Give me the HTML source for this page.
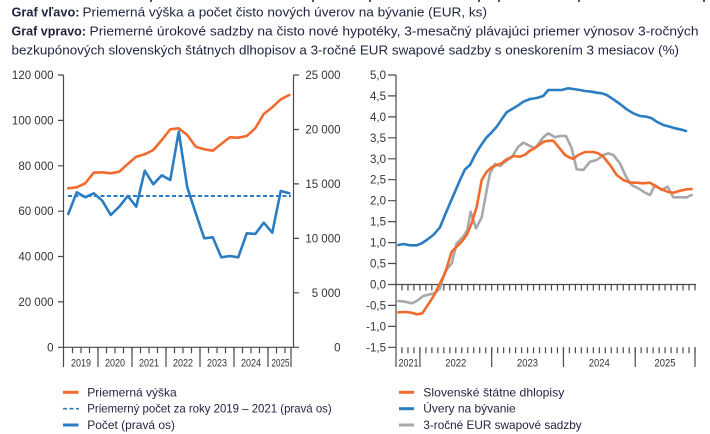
<!DOCTYPE html>
<html><head><meta charset="utf-8">
<style>
html,body{margin:0;padding:0;background:#fff;}
svg{display:block;}
text{font-family:"Liberation Sans",sans-serif;}
</style></head>
<body>
<svg width="710" height="434" viewBox="0 0 710 434" xmlns="http://www.w3.org/2000/svg">
<rect width="710" height="434" fill="#fff"/>
<!-- cut-off descenders from previous line -->
<g fill="#555">
<rect x="150" y="0" width="2" height="2"/>
<rect x="312" y="0" width="2" height="2"/>
<rect x="369" y="0" width="2" height="2"/>
<rect x="478" y="0" width="2" height="2"/>
<rect x="498" y="0" width="2" height="2"/>
<rect x="578" y="0" width="2" height="2"/>
<rect x="703" y="0" width="2" height="2"/>
</g>
<!-- Titles -->
<g fill="#1f2340" font-size="12.5">
<text x="11.5" y="16.5" font-weight="bold" textLength="68" lengthAdjust="spacingAndGlyphs">Graf vľavo:</text>
<text x="82.5" y="16.5" textLength="404.5" lengthAdjust="spacingAndGlyphs">Priemerná výška a počet čisto nových úverov na bývanie (EUR, ks)</text>
<text x="11.5" y="35.5" font-weight="bold" textLength="74.5" lengthAdjust="spacingAndGlyphs">Graf vpravo:</text>
<text x="89.5" y="35.5" textLength="609" lengthAdjust="spacingAndGlyphs">Priemerné úrokové sadzby na čisto nové hypotéky, 3-mesačný plávajúci priemer výnosov 3-ročných</text>
<text x="11.5" y="54.5" textLength="667.5" lengthAdjust="spacingAndGlyphs">bezkupónových slovenských štátnych dlhopisov a 3-ročné EUR swapové sadzby s oneskorením 3 mesiacov (%)</text>
</g>

<!-- LEFT CHART -->
<g stroke="#4a4a4a" stroke-width="1.2" fill="none">
<line x1="63.5" y1="75" x2="63.5" y2="367"/>
<line x1="293.5" y1="75" x2="293.5" y2="347.3"/>
<line x1="58" y1="347.3" x2="299" y2="347.3"/>
<path d="M58 75H63.5M58 120.4H63.5M58 165.8H63.5M58 211.2H63.5M58 256.5H63.5M58 301.9H63.5"/>
<path d="M293.5 75H299M293.5 129.5H299M293.5 183.9H299M293.5 238.4H299M293.5 292.8H299"/>
<path d="M98 347.3V367M132 347.3V367M166 347.3V367M200 347.3V367M234 347.3V367M268 347.3V367M291 347.3V367"/>
<line x1="71.9" y1="350.3" x2="291" y2="350.3" stroke-width="6" stroke-dasharray="1.2 7.3"/>
</g>
<g fill="#333" font-size="11.5" text-anchor="end">
<text x="53.5" y="79">120 000</text>
<text x="53.5" y="124.4">100 000</text>
<text x="53.5" y="169.8">80 000</text>
<text x="53.5" y="215.2">60 000</text>
<text x="53.5" y="260.5">40 000</text>
<text x="53.5" y="305.9">20 000</text>
<text x="53.5" y="351.3">0</text>
<text x="340.5" y="79">25 000</text>
<text x="340.5" y="133.5">20 000</text>
<text x="340.5" y="187.9">15 000</text>
<text x="340.5" y="242.4">10 000</text>
<text x="340.5" y="296.8">5 000</text>
<text x="340.5" y="351.3">0</text>
</g>
<g fill="#333" font-size="11" text-anchor="middle">
<text x="81" y="366.5" textLength="20" lengthAdjust="spacingAndGlyphs">2019</text>
<text x="115" y="366.5" textLength="20" lengthAdjust="spacingAndGlyphs">2020</text>
<text x="149" y="366.5" textLength="20" lengthAdjust="spacingAndGlyphs">2021</text>
<text x="183" y="366.5" textLength="20" lengthAdjust="spacingAndGlyphs">2022</text>
<text x="217" y="366.5" textLength="20" lengthAdjust="spacingAndGlyphs">2023</text>
<text x="251" y="366.5" textLength="20" lengthAdjust="spacingAndGlyphs">2024</text>
<text x="280.5" y="366.5" textLength="18" lengthAdjust="spacingAndGlyphs">2025</text>
</g>
<line x1="68" y1="196" x2="291" y2="196" stroke="#2b7dc2" stroke-width="2" stroke-dasharray="4 2.5"/>
<polyline fill="none" stroke="#f26b2e" stroke-width="2.6" stroke-linejoin="round" stroke-linecap="round"
points="68.25,188.3 76.75,187.3 85.25,183.3 93.75,172.7 102.25,172.3 110.75,173.3 119.25,171.7 127.75,164 136.25,156.7 144.75,154.3 153.25,150 161.75,140 170.25,129.3 178.75,128.3 187.25,135 195.75,146.7 204.25,149.3 212.75,150.7 221.25,144 229.75,137.3 238.25,137.7 246.75,136 255.25,128.3 263.75,114 272.25,107.3 280.75,99.3 289.25,95"/>
<polyline fill="none" stroke="#2b7dc2" stroke-width="2.6" stroke-linejoin="round" stroke-linecap="round"
points="68.25,214 76.75,192.3 85.25,197.3 93.75,193.3 102.25,200.7 110.75,215 119.25,206.7 127.75,196 136.25,206.7 144.75,170.7 153.25,184.3 161.75,175.3 170.25,180 178.75,131.7 187.25,187.3 195.75,213.3 204.25,238.3 212.75,237.3 221.25,257.3 229.75,256 238.25,257.3 246.75,233.3 255.25,234 263.75,222.7 272.25,232.7 280.75,191 289.25,193.3"/>

<!-- RIGHT CHART -->
<g stroke="#4a4a4a" stroke-width="1.2" fill="none">
<line x1="396" y1="75" x2="396" y2="367"/>
<line x1="388" y1="284.5" x2="696" y2="284.5"/>
<path d="M388 75H396M388 95.9H396M388 116.9H396M388 137.8H396M388 158.8H396M388 179.7H396M388 200.7H396M388 221.6H396M388 242.6H396M388 263.5H396M388 305.4H396M388 326.4H396M388 347.3H396"/>
<line x1="401.38" y1="287.5" x2="696" y2="287.5" stroke-width="6" stroke-dasharray="1.2 4.78"/>
<line x1="401.38" y1="350.3" x2="696" y2="350.3" stroke-width="6" stroke-dasharray="1.2 4.78"/>
<path d="M419.92 347.3V367M491.68 347.3V367M563.44 347.3V367M635.2 347.3V367M695 347.3V367"/>
</g>
<g fill="#333" font-size="11.5" text-anchor="end">
<text x="386" y="79">5,0</text>
<text x="386" y="99.9">4,5</text>
<text x="386" y="120.9">4,0</text>
<text x="386" y="141.8">3,5</text>
<text x="386" y="162.8">3,0</text>
<text x="386" y="183.7">2,5</text>
<text x="386" y="204.7">2,0</text>
<text x="386" y="225.6">1,5</text>
<text x="386" y="246.6">1,0</text>
<text x="386" y="267.5">0,5</text>
<text x="386" y="288.5">0,0</text>
<text x="386" y="309.4">-0,5</text>
<text x="386" y="330.4">-1,0</text>
<text x="386" y="351.3">-1,5</text>
</g>
<g fill="#333" font-size="11" text-anchor="middle">
<text x="408.5" y="366.5" textLength="20" lengthAdjust="spacingAndGlyphs">2021</text>
<text x="455.8" y="366.5" textLength="21" lengthAdjust="spacingAndGlyphs">2022</text>
<text x="527.5" y="366.5" textLength="21" lengthAdjust="spacingAndGlyphs">2023</text>
<text x="599.3" y="366.5" textLength="21" lengthAdjust="spacingAndGlyphs">2024</text>
<text x="665" y="366.5" textLength="21" lengthAdjust="spacingAndGlyphs">2025</text>
</g>
<polyline fill="none" stroke="#a6a8ab" stroke-width="2.6" stroke-linejoin="round" stroke-linecap="round"
points="398.3,301 405,301.7 411.7,303.3 416.7,301 423.3,296 430,294.3 435,293.3 440,288.3 445,271.7 451.7,263.3 456.7,243.3 463.3,236.7 467.3,230 470.7,211.7 476,228.3 481.7,217.3 486.7,190 490,173.3 495,164 500,166 505,161.7 511.7,157.3 518.3,146.7 523.3,142.7 530,146 535,148.3 540,141.7 543.3,137.3 548.3,133.3 555,137.3 560,136 566,136 571.7,148.3 576.7,169.3 583.3,170 590,161.7 596.7,160 603.3,155 608.3,153.3 613.3,155 620,163.3 626,176.7 631.7,185 638.3,188.3 645,192.7 650,195 655,185 661.7,190 667.7,186.7 673.3,197.3 680,197.3 686.7,197.3 691.7,195"/>
<polyline fill="none" stroke="#f26b2e" stroke-width="2.6" stroke-linejoin="round" stroke-linecap="round"
points="398.3,312.3 405,312 411.7,312.7 416.7,314.3 422.3,313.3 426.7,306.7 433.3,296.7 440,283.3 445,273.3 451.7,251.7 456.7,246.7 461.7,241.7 466.7,235 471.7,223.3 476.7,206.7 481.7,180 486.7,171.7 491.7,167.3 496.7,165 501.7,163.3 506.7,159.3 513.3,156 520,156.7 525,154.7 530,150.7 536.7,146.7 543.3,142 548,140.8 553.3,140.7 558.3,146.7 565,155 570,157.7 573.3,158.7 578.3,155 585,152 593.3,152 598.3,153.3 603.3,156.7 610,165 616.7,175 623.3,180 630,182.7 636.7,182.7 643.3,183.3 650,182.7 655,186 661.7,189.3 668.3,192 673.3,192.7 680,190.7 686.7,189.3 691.7,189"/>
<polyline fill="none" stroke="#2b7dc2" stroke-width="2.6" stroke-linejoin="round" stroke-linecap="round"
points="398.3,245 403.3,244 410,245.3 416.7,245.3 421.7,243.3 426.7,240 433.3,235 440,227.3 445,215 450,203.3 455,191.7 460,180 465,169.3 470,165 475,155 480,146.7 486.7,137.3 491.7,132.3 496.7,126.7 501.7,119.3 506.7,112.3 511.7,109.3 518.3,105.3 523.3,101.7 530,99 536.7,98 543.3,96 548.3,90 555,90 561.7,90 568.3,88.3 573.3,89 580,90 585,91 591.7,91.7 596.7,92.7 601.7,93.3 606.7,95 613.3,99.3 620,104 626.7,109.3 633.3,113.3 640,116 646.7,116.7 651.7,118.3 656.7,121.7 663.3,125 670,126.7 675,128.3 680,129.3 686,131"/>

<!-- LEGEND -->
<g stroke-width="3" fill="none">
<line x1="63" y1="392.3" x2="78.5" y2="392.3" stroke="#f26b2e"/>
<line x1="63" y1="408.7" x2="79" y2="408.7" stroke="#2b7dc2" stroke-width="1.6" stroke-dasharray="4 2.5"/>
<line x1="63" y1="425" x2="78.5" y2="425" stroke="#2b7dc2"/>
<line x1="399" y1="392.3" x2="414" y2="392.3" stroke="#f26b2e"/>
<line x1="399" y1="408.7" x2="414" y2="408.7" stroke="#2b7dc2"/>
<line x1="399" y1="425" x2="414" y2="425" stroke="#a6a8ab"/>
</g>
<g fill="#1f2340" font-size="12">
<text x="87.3" y="396.3" textLength="89.4" lengthAdjust="spacingAndGlyphs">Priemerná výška</text>
<text x="87.3" y="412.6" textLength="244.4" lengthAdjust="spacingAndGlyphs">Priemerný počet za roky 2019 – 2021 (pravá os)</text>
<text x="87.3" y="428.8" textLength="87.7" lengthAdjust="spacingAndGlyphs">Počet (pravá os)</text>
<text x="423.3" y="396.3" textLength="141" lengthAdjust="spacingAndGlyphs">Slovenské štátne dhlopisy</text>
<text x="423.3" y="412.6" textLength="92.4" lengthAdjust="spacingAndGlyphs">Úvery na bývanie</text>
<text x="423.3" y="428.8" textLength="158.4" lengthAdjust="spacingAndGlyphs">3-ročné EUR swapové sadzby</text>
</g>
</svg>
</body></html>
